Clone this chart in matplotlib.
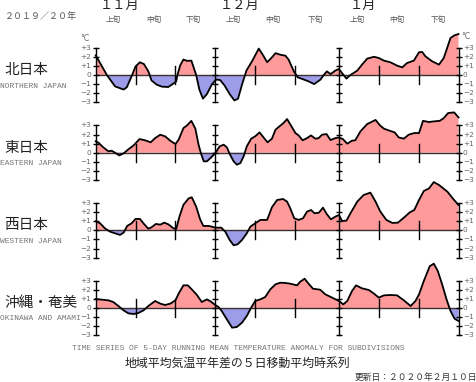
import numpy as np
import matplotlib
matplotlib.use("Agg")
import matplotlib.pyplot as plt

plt.rcParams['font.family'] = ['Noto Sans CJK JP', 'DejaVu Sans']

# days counted from Nov 1 (Dec 1 = 30, Jan 1 = 61, Jan 31 = 91)
north_x = [0, 2.8, 4.85, 7, 7.8, 9, 10, 11.1, 12.1, 13.2, 14, 15.3, 16.6, 18.2, 19.3, 20.2, 20.5, 21.2, 22, 22.9,
           24, 25.2, 26, 26.9, 27.9, 29.1, 30.2, 31.2, 32.3, 33.7, 34.8, 35.7, 36.7, 37.8, 39.2, 40.9, 42, 43, 44.2,
           45.1, 46.3, 47.6, 48.4, 49.7, 50.7, 52.2, 53.4, 54.8, 56.4, 57.2, 58, 58.9, 60.1, 61, 62, 62.9, 63.9,
           65.6, 66.8, 68.1, 69.8, 71, 72.3, 73.9, 75.6, 76.9, 78.1, 79.8, 81.1, 81.9, 82.7, 84.4, 86.1, 87.3, 89,
           90, 91]
north_y = [2.16, 0, -1.25, -1.6, -1.35, -0.15, 0.95, 1.4, 1.2, 0.4, -0.6, -1.06, -1.28, -1.32, -1.0, -0.7, 0, 1.06,
           1.7, 1.55, 1.58, 0, -1.6, -2.6, -2.1, -1.06, -0.5, -0.55, -1.14, -2.16, -2.8, -2.6, -1.06, 0.48, 1.5, 2.9,
           2.16, 1.4, 1.94, 2.4, 2.23, 2.12, 1.68, 0.4, -0.26, -0.5, -0.7, -1.0, -0.5, 0, 0.4, 0.1, 0.48, 0.66, 0.1,
           -0.4, 0, 0.48, 1.14, 1.8, 2.0, 1.87, 1.58, 1.4, 1.03, 0.84, 1.32, 1.58, 2.5, 2.53, 2.05, 1.5, 1.14, 1.87,
           4.07, 4.36, 4.5]

east_x = [0, 0.7, 1.9, 3.2, 4, 4.85, 5.9, 7, 8.2, 9.5, 11, 12.4, 13.8, 14.9, 16.2, 17.4, 18.7, 20, 20.8, 22, 22.9,
          24, 25, 25.8, 26.5, 27.1, 27.9, 29, 30, 31.1, 32.1, 32.9, 33.7, 34.6, 35.4, 36.3, 37.1, 37.9, 39, 40,
          41.1, 42.1, 43.1, 44.2, 45.1, 46.1, 47.1, 48, 49.1, 50.1, 50.9, 51.9, 53, 54, 55.1, 55.9, 56.8, 57.9,
          58.9, 60.1, 61, 62, 63.1, 64.3, 65.1, 66.4, 68.1, 70.2, 71.3, 72.3, 73.5, 75, 76, 77.3, 78.5, 79.9, 81.1,
          82.1, 83.6, 84.8, 86.3, 87.3, 88.4, 89.9, 91]
east_y = [1.25, 1.1, 0.59, 0.15, 0.22, 0, -0.3, -0.07, 0.37, 0.8, 1.5, 1.36, 1.14, 1.6, 1.98, 1.8, 1.32, 0.95, 1.43,
          2.7, 3.0, 3.5, 2.64, 0.88, -0.22, -0.95, -0.95, -0.5, -0.04, 0.7, 0.88, 0.59, -0.22, -0.95, -1.32, -1.14,
          -0.4, 0.7, 1.54, 1.8, 2.23, 1.68, 1.14, 1.54, 2.53, 2.9, 3.26, 3.7, 2.9, 2.16, 1.9, 1.36, 1.6, 1.9, 1.54,
          1.6, 1.98, 2.05, 1.39, 1.6, 1.68, 1.5, 0.99, 1.32, 1.36, 2.34, 3.15, 3.6, 3.0, 2.64, 2.45, 2.23, 1.68,
          1.54, 1.98, 2.16, 2.16, 3.5, 3.37, 3.44, 3.5, 3.8, 4.36, 4.43, 3.88]

west_x = [0, 1.1, 2.3, 3.6, 4.85, 6.1, 7, 7.9, 9, 10, 11.1, 12.1, 13.2, 14, 15.1, 16.2, 17.2, 18.2, 19.5, 20.2, 21,
          22, 23.3, 24.1, 25.2, 26.2, 27, 28.3, 29.1, 30, 31.5, 32.5, 33.6, 34.6, 35.6, 36.7, 37.9, 38.8, 40, 41.3,
          43, 44.2, 45.5, 47, 48, 48.8, 49.8, 50.9, 52, 53, 54, 54.9, 56, 57, 58, 59, 60.1, 61, 61.8, 62.9, 63.9,
          65.6, 67.2, 68.9, 70.2, 71.4, 72.9, 74.4, 75.8, 77.3, 78.8, 79.9, 81.1, 82.3, 83.6, 84.8, 86.1, 88.2,
          89.9, 91]
west_y = [0.99, 0.77, 0.22, -0.15, -0.33, -0.51, -0.26, 0.48, 0.77, 1.25, 1.25, 0.7, 0.18, 0.33, 0.7, 0.62, 0.84,
          0.66, 0.22, 0.15, 1.5, 2.8, 3.5, 3.63, 2.6, 1.2, 0.48, 0.48, 0.4, 0.29, 0.29, -0.15, -1.06, -1.65, -1.54,
          -1.06, -0.33, 0.4, 0.77, 1.14, 1.14, 2.53, 3.33, 3.44, 3.15, 2.42, 1.32, 1.14, 1.32, 2.05, 2.23, 1.87,
          1.94, 2.49, 1.76, 1.2, 1.5, 1.68, 1.03, 1.06, 1.87, 3.15, 3.88, 4.14, 3.15, 2.05, 1.14, 0.81, 0.84, 1.39,
          1.98, 2.23, 3.33, 4.32, 4.6, 5.3, 4.98, 4.25, 3.33, 2.78]

oki_x = [0, 1.5, 3.2, 4.4, 5.7, 7, 8.2, 9.5, 10.7, 12, 13.2, 14.9, 16.2, 17.4, 18.7, 20, 20.8, 22, 23.1, 24.1, 25.4,
         26.6, 27.9, 28.9, 30, 30.8, 31.6, 32.9, 34.2, 35.4, 36.7, 37.9, 39, 40, 41.3, 42.5, 43.8, 45.1, 46.3, 47.6,
         48.8, 50.5, 51.3, 52.4, 53.4, 54.5, 56.3, 57.6, 59.3, 61, 62.1, 63.1, 64.3, 65.3, 66.8, 68.5, 69.8, 71,
         72.3, 73.9, 75.6, 77.3, 79, 80.2, 81.1, 82.3, 83.8, 84.8, 85.8, 86.9, 88, 89, 90, 91]
oki_y = [0.99, 0.92, 0.84, 0.66, 0.22, -0.26, -0.59, -0.66, -0.55, -0.26, 0.22, 0.77, 0.48, 0.33, 0.48, 0.84, 1.58,
         2.49, 2.49, 2.05, 1.43, 0.66, 0.95, 0.7, 0.33, 0.11, -0.33, -1.25, -2.16, -2.09, -1.61, -0.88, 0.04, 0.77,
         0.95, 1.2, 2.05, 2.6, 2.78, 2.75, 2.67, 2.49, 2.89, 3.22, 2.67, 2.12, 2.01, 1.5, 1.14, 0.77, 0.4, 0.77,
         1.87, 2.49, 2.16, 1.98, 1.58, 1.14, 1.39, 1.43, 1.39, 0.84, 0.22, 0.77, 1.5, 2.97, 4.6, 4.87, 4.07, 2.6,
         0.95, -0.33, -1.17, -1.43]

regions = ["北日本", "東日本", "西日本", "沖縄・奄美"]
regions_en = ["NORTHERN JAPAN", "EASTERN JAPAN", "WESTERN JAPAN", "OKINAWA AND AMAMI"]
series = [(north_x, north_y), (east_x, east_y), (west_x, west_y), (oki_x, oki_y)]

months = ["１１月", "１２月", "１月"]
month_start = [0, 30, 61]
dekads = ["上旬", "中旬", "下旬"] * 3
dekad_mid = [4.5, 14.5, 24.5, 34.5, 44.5, 55, 65.5, 75.5, 86]
bar_days = [0, 30, 61, 91]
dekad_ticks = [10, 20, 40, 50, 71, 81]
ytick_lbl = ["+3", "+2", "+1", "0", "−1", "−2", "−3"]

W, H = 476, 382
red = "#ff9a9a"
blue = "#9c9ce8"

fig = plt.figure(figsize=(W / 100, H / 100), dpi=100)

x_left, x_right = 95.7, 458.5
px_per_deg = 9.1
zero_px = [75, 152.7, 230.3, 308.0]
ylo, yhi = -5, 5.8

for i, (xs, ys) in enumerate(series):
    xs = np.array(xs)
    ys = np.array(ys)
    bottom = zero_px[i] - ylo * px_per_deg
    top = zero_px[i] - yhi * px_per_deg
    ax = fig.add_axes([x_left / W, 1 - bottom / H, (x_right - x_left) / W, (bottom - top) / H])
    ax.set_xlim(0, 91)
    ax.set_ylim(ylo, yhi)
    ax.axis("off")
    ax.patch.set_visible(False)

    ax.fill_between(xs, ys, 0, where=ys >= 0, interpolate=True, color=red, lw=0)
    ax.fill_between(xs, ys, 0, where=ys <= 0, interpolate=True, color=blue, lw=0)
    ax.plot([0, 91], [0, 0], color="#3a3030", lw=1.0)

    for d in bar_days:
        ax.plot([d, d], [-3, 3], color="k", lw=1.0, clip_on=False)
        ax.plot([d] * 7, np.arange(-3, 4), ls="none", marker="_", ms=4.5, mew=1.0, color="k", clip_on=False)
    for d in dekad_ticks:
        ax.plot([d, d], [-1, 1], color="k", lw=1.0)

    ax.plot(xs, ys, color="k", lw=1.3, clip_on=False, solid_joinstyle="round")

    for v, lbl in zip(range(3, -4, -1), ytick_lbl):
        ax.text(-1.1, v, lbl, ha="right", va="center", fontsize=5.3, color="#666666", family="DejaVu Sans")
        ax.text(92.1, v, lbl, ha="left", va="center", fontsize=5.3, color="#666666", family="DejaVu Sans")
    if i == 0:
        ax.text(-1.6, 4.0, "°C", ha="right", va="center", fontsize=5.5, color="#666666", family="DejaVu Sans")
        ax.text(91.6, 4.2, "°C", ha="left", va="center", fontsize=5.5, color="#666666", family="DejaVu Sans")

    # region names
    fig.text(4 / W, 1 - (zero_px[i] - 5) / H, regions[i], ha="left", va="center", fontsize=10.5, color="#222222")
    fig.text(0 / W, 1 - (zero_px[i] + 11) / H, regions_en[i], ha="left", va="center", fontsize=5.7,
             color="#777777", family="Liberation Mono")

# header
fig.text(5 / W, 1 - 17 / H, "２０１９／２０年", ha="left", va="center", fontsize=6.5, color="#555555")
for m, d in zip(months, month_start):
    px = x_left + (d + 6) * 3.987
    fig.text(px / W, 1 - 5 / H, m, ha="center", va="center", fontsize=9.5, color="#222222")
for lbl, d in zip(dekads, dekad_mid):
    px = x_left + d * 3.987
    fig.text(px / W, 1 - 20 / H, lbl, ha="center", va="center", fontsize=5.5, color="#555555")

# footer
fig.text(238 / W, 1 - 348 / H, "TIME SERIES OF 5-DAY RUNNING MEAN TEMPERATURE ANOMALY FOR SUBDIVISIONS",
         ha="center", va="center", fontsize=5.8, color="#777777", family="Liberation Mono")
fig.text(237 / W, 1 - 363 / H, "地域平均気温平年差の５日移動平均時系列", ha="center", va="center",
         fontsize=8.6, color="#222222")
fig.text(477 / W, 1 - 377 / H, "更新日：２０２０年２月１０日", ha="right", va="center", fontsize=6.3,
         color="#333333")

fig.savefig("out.png", dpi=100)
